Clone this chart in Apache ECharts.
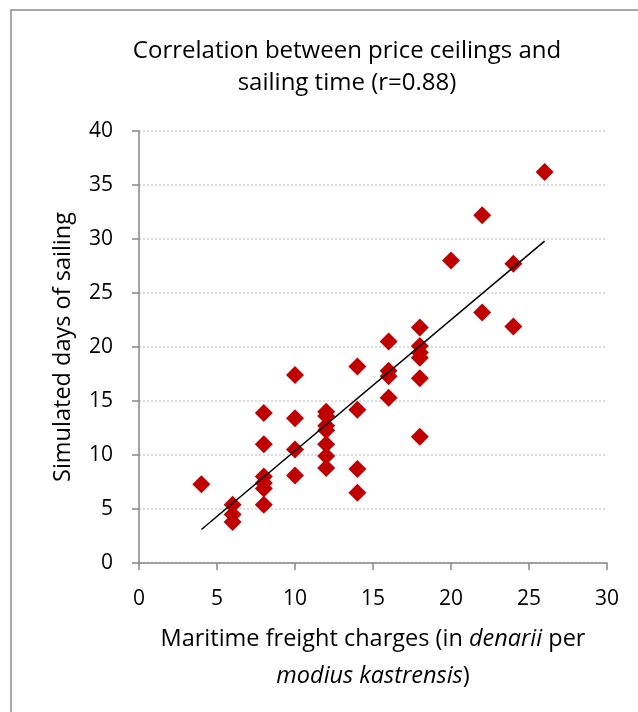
<!DOCTYPE html>
<html>
<head>
<meta charset="utf-8">
<script src="https://cdn.jsdelivr.net/npm/echarts@6/dist/echarts.min.js"></script>
<style>
  html, body { margin: 0; padding: 0; background: #fff; }
  #chart { width: 638px; height: 712px; }
</style>
</head>
<body>
<div id="chart"></div>
<script>
// freight charge (x) and simulated sailing days (y)
const freight = [
  4,
  6, 6, 6,
  8, 8, 8, 8, 8, 8,
  10, 10, 10, 10,
  12, 12, 12, 12, 12, 12, 12,
  14, 14, 14, 14,
  16, 16, 16, 16,
  18, 18, 18, 18, 18, 18,
  20,
  22, 22,
  24, 24,
  26
]
const days = [
  7.3,
  5.4, 4.5, 3.8,
  13.9, 11.0, 8.0, 7.4, 6.9, 5.4,
  17.4, 13.4, 10.5, 8.1,
  14.0, 13.6, 12.7, 12.3, 11.0, 9.9, 8.8,
  18.2, 14.2, 8.7, 6.5,
  20.5, 17.8, 17.3, 15.3,
  21.8, 20.1, 19.5, 19.0, 17.1, 11.7,
  28.0,
  32.2, 23.2,
  27.7, 21.9,
  36.2
]
// trend line end points
const trendX = [4, 26]
const trendY = [3.1, 29.8]

const font = 'Open Sans, sans-serif'
const myChart = echarts.init(document.getElementById('chart'))
myChart.setOption({
  animation: false,
  textStyle: { fontFamily: font },
  graphic: [{
    type: 'rect',
    shape: { x: 11, y: 10, width: 800, height: 900 },
    style: { fill: 'none', stroke: '#8c8c8c', lineWidth: 1.5 },
    silent: true
  }],
  title: {
    text: 'Correlation between price ceilings and\nsailing time (r=0.88)',
    left: 342,
    top: 30,
    textAlign: 'center',
    textStyle: {
      fontFamily: font,
      fontWeight: 'normal',
      fontSize: 24,
      lineHeight: 32,
      color: '#000'
    }
  },
  grid: {
    left: 139,
    right: 31,
    top: 131,
    bottom: 149
  },
  xAxis: {
    type: 'value',
    min: 0,
    max: 30,
    interval: 5,
    name: '{n|Maritime freight charges (in }{i|denarii}{n| per}\n{i|modius kastrensis}{n|)}',
    nameLocation: 'middle',
    nameGap: 58,
    nameTextStyle: {
      rich: {
        n: { fontFamily: font, fontSize: 23.5, color: '#000', lineHeight: 37 },
        i: { fontFamily: font, fontSize: 23.5, color: '#000', fontStyle: 'italic', lineHeight: 37 }
      }
    },
    axisLine: { show: true, lineStyle: { color: '#868686', width: 1.5 } },
    axisTick: { show: true, length: 7, lineStyle: { color: '#868686', width: 1.5 } },
    axisLabel: { color: '#000', fontSize: 21, margin: 26 },
    splitLine: { show: false }
  },
  yAxis: {
    type: 'value',
    min: 0,
    max: 40,
    interval: 5,
    name: 'Simulated days of sailing',
    nameLocation: 'middle',
    nameGap: 64,
    nameTextStyle: { color: '#000', fontSize: 23.5 },
    axisLine: { show: true, lineStyle: { color: '#868686', width: 1.5 } },
    axisTick: { show: true, length: 7, lineStyle: { color: '#868686', width: 1.5 } },
    axisLabel: { color: '#000', fontSize: 21, margin: 26 },
    splitLine: {
      show: true,
      lineStyle: { color: '#d0d0d0', type: [2, 2], width: 1.5 }
    }
  },
  series: [
    {
      name: 'days',
      type: 'scatter',
      symbol: 'diamond',
      symbolSize: 18,
      itemStyle: { color: '#c00000', opacity: 1 },
      data: freight.map((x, i) => [x, days[i]])
    },
    {
      name: 'trend',
      type: 'line',
      symbol: 'none',
      lineStyle: { color: '#000', width: 1.5 },
      data: trendX.map((x, i) => [x, trendY[i]]),
      z: 3
    }
  ]
})
</script>
</body>
</html>
